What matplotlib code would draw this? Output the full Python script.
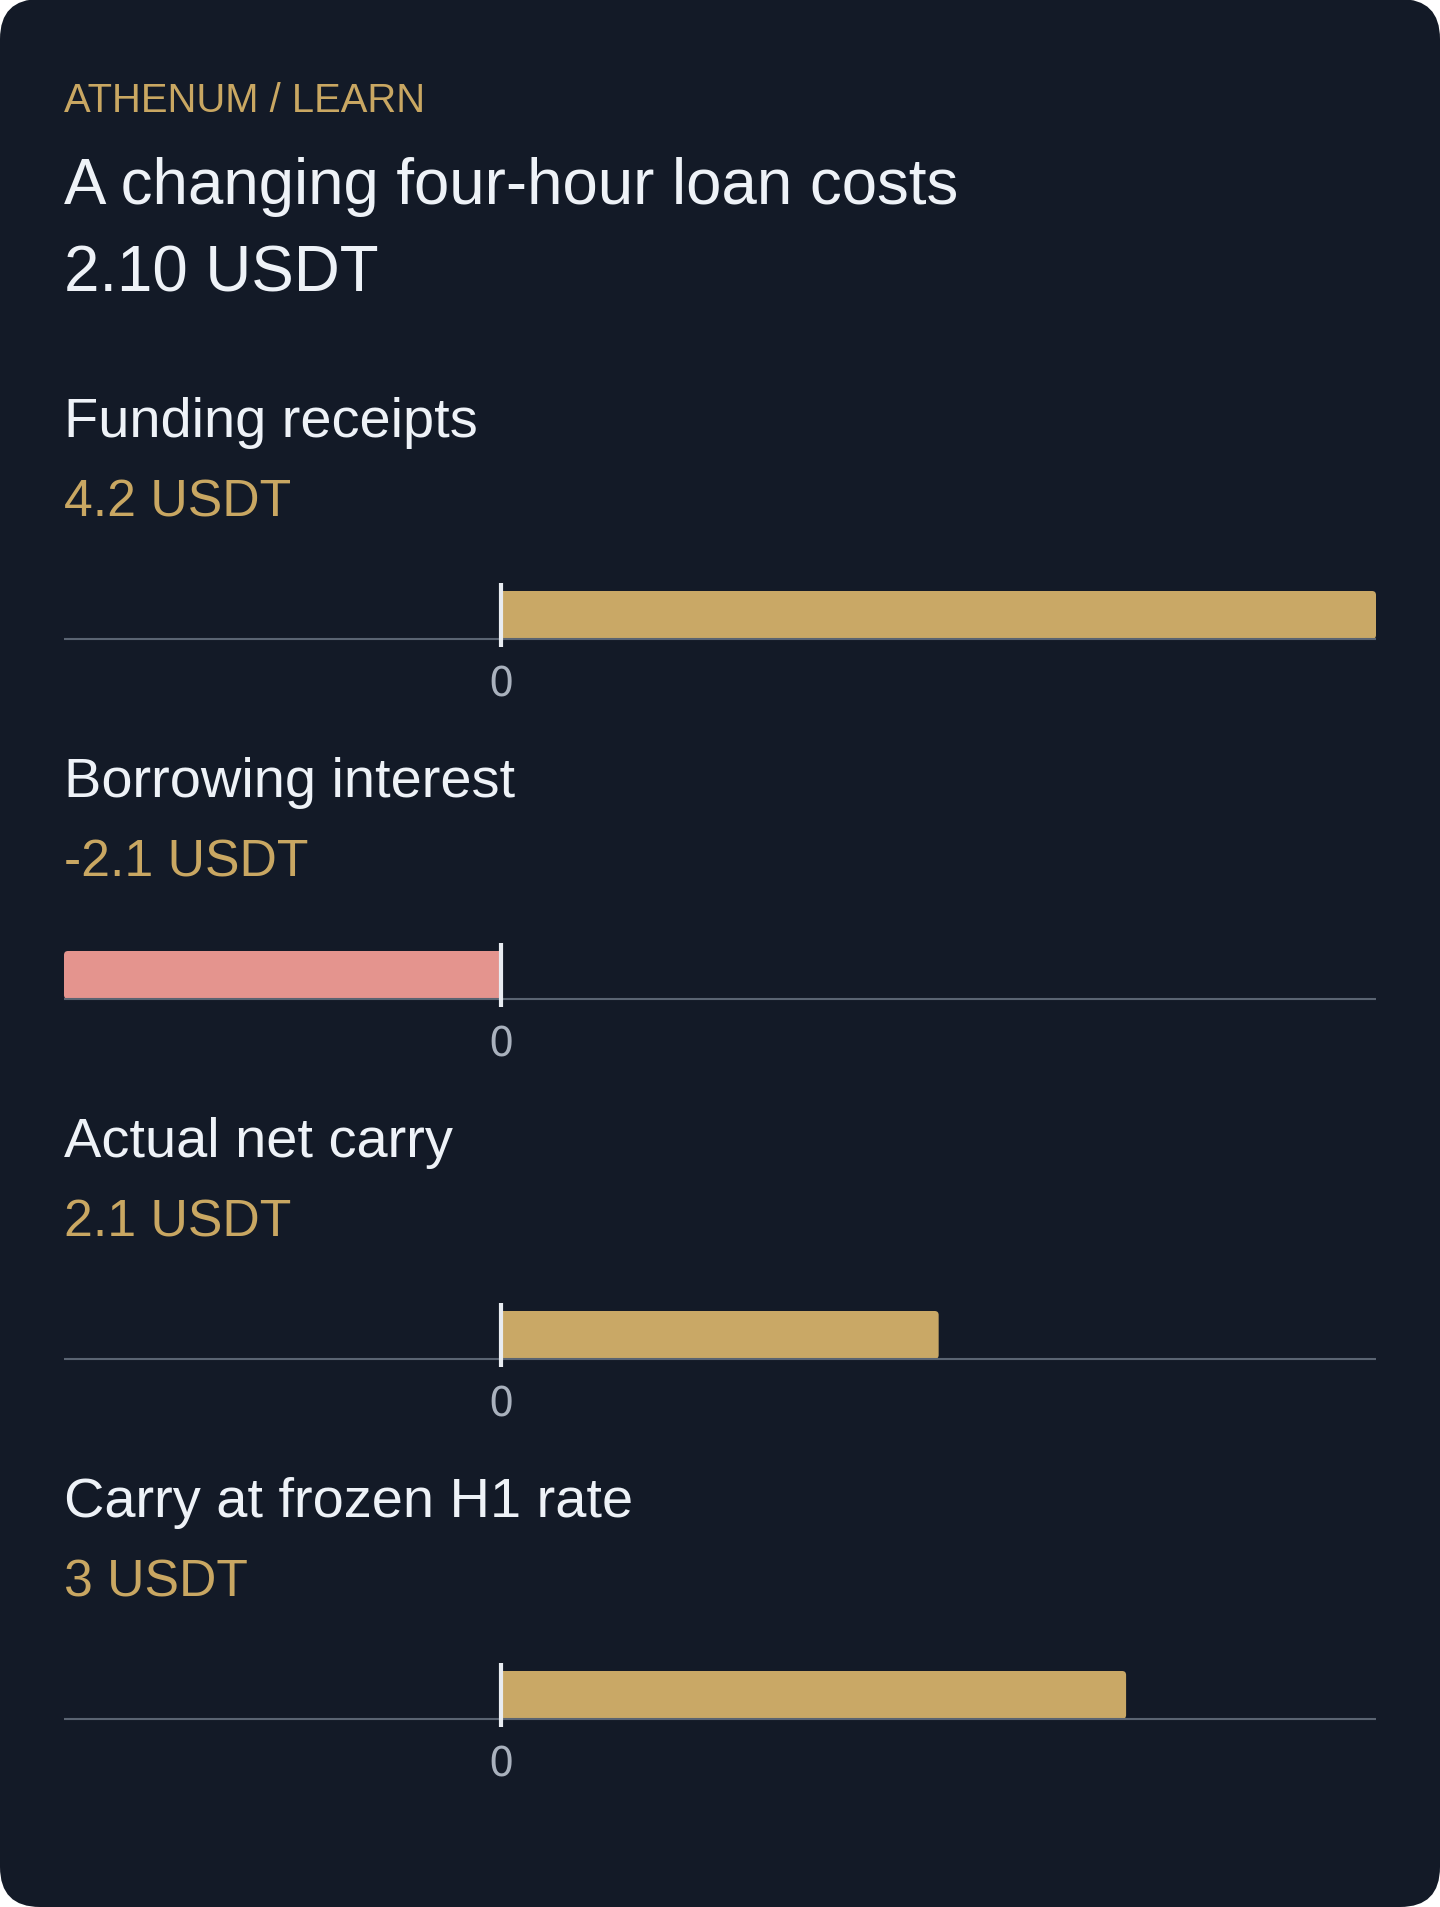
import matplotlib
matplotlib.use("Agg")
import matplotlib.pyplot as plt
from matplotlib.patches import FancyBboxPatch
from matplotlib.transforms import IdentityTransform

# ---- data ----
eyebrow = "ATHENUM / LEARN"
title_lines = ["A changing four-hour loan costs", "2.10 USDT"]
categories = ["Funding receipts", "Borrowing interest", "Actual net carry", "Carry at frozen H1 rate"]
values = [4.2, -2.1, 2.1, 3.0]
value_labels = ["4.2 USDT", "-2.1 USDT", "2.1 USDT", "3 USDT"]
x_domain = [-2.1, 4.2]
tick_values = [0]
tick_labels = ["0"]

# ---- style ----
W, H, DPI = 1440, 1908, 100
BG = "#131a27"
GOLD_TXT = "#c9a762"
WHITE_TXT = "#eef2f7"
POS = "#c9a866"
NEG = "#e4948e"
BASE = "#5a6472"
ZERO = "#e8ecf1"
TICK = "#a9b1bd"
FONT = "Liberation Sans"

fig = plt.figure(figsize=(W / DPI, H / DPI), dpi=DPI, facecolor="white")

card = FancyBboxPatch((0, 0), W, H, boxstyle="round,pad=0,rounding_size=40",
                      transform=IdentityTransform(), facecolor=BG, edgecolor="none", zorder=0)
fig.add_artist(card)

def fy(y):
    return 1 - y / H

LEFT = 64
PLOT_W = 1312

fig.text(LEFT / W, fy(112), eyebrow, color=GOLD_TXT, fontsize=28.8, family=FONT, va="baseline")
fig.text(LEFT / W, fy(204), title_lines[0], color=WHITE_TXT, fontsize=45.8, family=FONT, va="baseline")
fig.text(LEFT / W, fy(292), title_lines[1], color=WHITE_TXT, fontsize=45.8, family=FONT, va="baseline")

SPACING = 360
BAR_H = 48
px_per_unit = PLOT_W / (x_domain[1] - x_domain[0])
r_px = 4

for i, (cat, v, vl) in enumerate(zip(categories, values, value_labels)):
    off = SPACING * i
    fig.text(LEFT / W, fy(437 + off), cat, color=WHITE_TXT, fontsize=40.3, family=FONT, va="baseline")
    fig.text(LEFT / W, fy(517 + off), vl, color=GOLD_TXT, fontsize=37.3, family=FONT, va="baseline")

    top_px, bot_px = 584 + off, 648 + off
    ax = fig.add_axes([LEFT / W, fy(bot_px), PLOT_W / W, (bot_px - top_px) / H])
    ax.set_facecolor("none")
    ax.set_xlim(*x_domain)
    ax.set_ylim(-8, 56)
    for s in ax.spines.values():
        s.set_visible(False)
    ax.set_yticks([])
    ax.set_xticks(tick_values)
    ax.set_xticklabels(tick_labels, color=TICK, fontsize=28.5, family="DejaVu Sans")
    ax.tick_params(axis="x", length=0, pad=12.5)

    color = POS if v >= 0 else NEG
    rx = r_px / px_per_unit
    # rounded full bar
    ax.add_patch(FancyBboxPatch((min(0, v), 0), abs(v), BAR_H,
                                boxstyle=f"round,pad=0,rounding_size={rx}",
                                mutation_aspect=px_per_unit,
                                facecolor=color, edgecolor="none", zorder=2))
    # square inner half
    ax.barh(BAR_H / 2, v / 2, height=BAR_H, left=0, color=color, zorder=2)

    ax.plot(x_domain, [0, 0], color=BASE, lw=1.5, zorder=3, solid_capstyle="butt")
    ax.plot([0, 0], [-8, 56], color=ZERO, lw=3, zorder=4, solid_capstyle="butt")

fig.savefig("out.png", dpi=DPI, facecolor="white")
